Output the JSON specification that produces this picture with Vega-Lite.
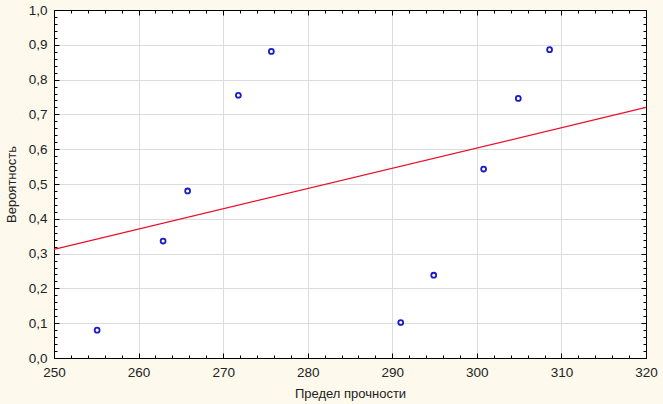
{
  "$schema": "https://vega.github.io/schema/vega-lite/v6.json",
  "width": 592,
  "height": 348,
  "autosize": {"type": "none"},
  "padding": {"left": 54, "top": 10, "right": 17, "bottom": 46},
  "background": "#fdf9ec",
  "config": {
    "view": {"fill": "white", "stroke": "black", "strokeWidth": 1},
    "font": "Liberation Sans",
    "axis": {
      "domainColor": "black",
      "tickColor": "black",
      "gridColor": "#dcdcdc",
      "labelFont": "Liberation Sans",
      "titleFont": "Liberation Sans",
      "labelColor": "#222",
      "titleColor": "#222",
      "labelFontSize": 13.5,
      "titleFontSize": 13,
      "titleFontWeight": "normal"
    }
  },
  "datasets": {
    "pts": [
      {"x": 255.1, "p": 0.080},
      {"x": 262.9, "p": 0.336},
      {"x": 265.8, "p": 0.480},
      {"x": 271.8, "p": 0.755},
      {"x": 275.7, "p": 0.881},
      {"x": 291.0, "p": 0.102},
      {"x": 294.9, "p": 0.238},
      {"x": 300.8, "p": 0.543},
      {"x": 304.9, "p": 0.746},
      {"x": 308.6, "p": 0.886}
    ],
    "fit": [
      {"x": 250, "p": 0.312},
      {"x": 320, "p": 0.720}
    ]
  },
  "resolve": {"axis": {"x": "independent", "y": "independent"}},
  "layer": [
    {
      "data": {"name": "pts"},
      "mark": {"type": "point", "shape": "circle", "filled": false, "color": "#1a1acc", "strokeWidth": 1.8, "size": 24, "opacity": 1},
      "encoding": {
        "x": {"field": "x", "type": "quantitative",
          "scale": {"domain": [250, 320], "nice": false, "zero": false},
          "axis": {"orient": "bottom", "title": "Предел прочности", "values": [250, 260, 270, 280, 290, 300, 310, 320],
            "grid": true, "tickSize": -5, "labelPadding": 12, "titlePadding": 9, "labelFlush": false,
            "labelExpr": "format(datum.value, 'd')"}},
        "y": {"field": "p", "type": "quantitative",
          "scale": {"domain": [0, 1], "nice": false, "zero": false},
          "axis": {"orient": "left", "title": "Вероятность", "values": [0, 0.1, 0.2, 0.3, 0.4, 0.5, 0.6, 0.7, 0.8, 0.9, 1],
            "grid": true, "tickSize": -5, "labelPadding": 12, "titlePadding": 10, "labelFlush": false,
            "labelExpr": "replace(format(datum.value, '.1f'), '.', ',')"}}
      }
    },
    {
      "data": {"name": "fit"},
      "mark": {"type": "line", "color": "#e8102a", "strokeWidth": 1.2},
      "encoding": {
        "x": {"field": "x", "type": "quantitative",
          "axis": {"orient": "bottom", "title": null, "labels": false, "grid": false, "domain": false, "tickSize": -3,
            "values": [252, 254, 256, 258, 262, 264, 266, 268, 272, 274, 276, 278, 282, 284, 286, 288, 292, 294, 296, 298, 302, 304, 306, 308, 312, 314, 316, 318]}},
        "y": {"field": "p", "type": "quantitative",
          "axis": {"orient": "left", "title": null, "labels": false, "grid": false, "domain": false, "tickSize": -3,
            "values": [0.02, 0.04, 0.06, 0.08, 0.12, 0.14, 0.16, 0.18, 0.22, 0.24, 0.26, 0.28, 0.32, 0.34, 0.36, 0.38, 0.42, 0.44, 0.46, 0.48, 0.52, 0.54, 0.56, 0.58, 0.62, 0.64, 0.66, 0.68, 0.72, 0.74, 0.76, 0.78, 0.82, 0.84, 0.86, 0.88, 0.92, 0.94, 0.96, 0.98]}}
      }
    },
    {
      "data": {"name": "fit"},
      "mark": {"type": "point", "opacity": 0},
      "encoding": {
        "x": {"field": "x", "type": "quantitative",
          "axis": {"orient": "top", "title": null, "labels": false, "grid": false, "tickSize": -5,
            "values": [250, 260, 270, 280, 290, 300, 310, 320]}},
        "y": {"field": "p", "type": "quantitative",
          "axis": {"orient": "right", "title": null, "labels": false, "grid": false, "tickSize": -5,
            "values": [0, 0.1, 0.2, 0.3, 0.4, 0.5, 0.6, 0.7, 0.8, 0.9, 1]}}
      }
    },
    {
      "data": {"name": "fit"},
      "mark": {"type": "point", "opacity": 0},
      "encoding": {
        "x": {"field": "x", "type": "quantitative",
          "axis": {"orient": "top", "title": null, "labels": false, "grid": false, "domain": false, "tickSize": -3,
            "values": [252, 254, 256, 258, 262, 264, 266, 268, 272, 274, 276, 278, 282, 284, 286, 288, 292, 294, 296, 298, 302, 304, 306, 308, 312, 314, 316, 318]}},
        "y": {"field": "p", "type": "quantitative",
          "axis": {"orient": "right", "title": null, "labels": false, "grid": false, "domain": false, "tickSize": -3,
            "values": [0.02, 0.04, 0.06, 0.08, 0.12, 0.14, 0.16, 0.18, 0.22, 0.24, 0.26, 0.28, 0.32, 0.34, 0.36, 0.38, 0.42, 0.44, 0.46, 0.48, 0.52, 0.54, 0.56, 0.58, 0.62, 0.64, 0.66, 0.68, 0.72, 0.74, 0.76, 0.78, 0.82, 0.84, 0.86, 0.88, 0.92, 0.94, 0.96, 0.98]}}
      }
    }
  ]
}
